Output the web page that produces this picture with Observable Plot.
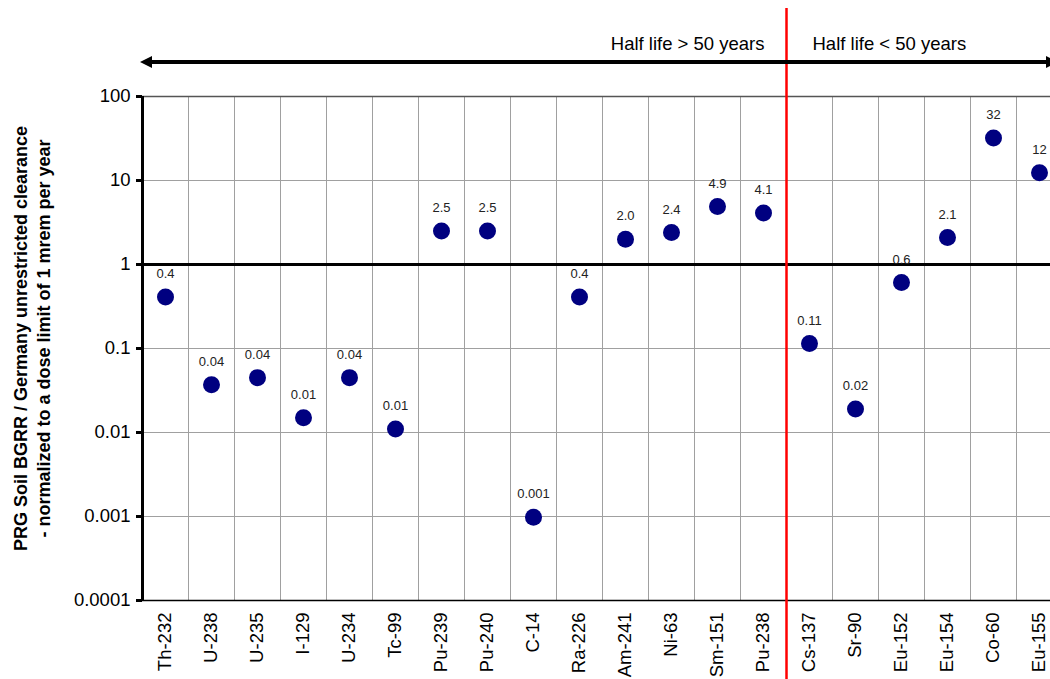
<!DOCTYPE html>
<html>
<head>
<meta charset="utf-8">
<script src="https://cdn.jsdelivr.net/npm/d3@7"></script>
<script src="https://cdn.jsdelivr.net/npm/@observablehq/plot@0.6"></script>
<style>
  html, body { margin: 0; padding: 0; background: #fff; overflow: hidden; }
  #chart { width: 1050px; height: 679px; overflow: hidden; }
  #chart svg { max-width: none !important; width: 1062px !important; height: 679px !important; }
</style>
</head>
<body>
<div id="chart"></div>
<script>
const nuclides = ["Th-232","U-238","U-235","I-129","U-234","Tc-99","Pu-239","Pu-240","C-14","Ra-226","Am-241","Ni-63","Sm-151","Pu-238","Cs-137","Sr-90","Eu-152","Eu-154","Co-60","Eu-155"];
const ratios = [0.41,0.037,0.045,0.015,0.045,0.011,2.5,2.5,0.00098,0.41,2.0,2.4,4.9,4.1,0.115,0.019,0.61,2.1,32,12.4];
const valueLabels = ["0.4","0.04","0.04","0.01","0.04","0.01","2.5","2.5","0.001","0.4","2.0","2.4","4.9","4.1","0.11","0.02","0.6","2.1","32","12"];
const yTicks = [0.0001,0.001,0.01,0.1,1,10,100];
const yTickLabels = ["0.0001","0.001","0.01","0.1","1","10","100"];
const dividerAt = "Cs-137";
const regionLabels = ["Half life > 50 years","Half life < 50 years"];
const yTitle = "PRG Soil BGRR / Germany unrestricted clearance\n- normalized to a dose limit of 1 mrem per year";

const data = nuclides.map((n, i) => ({nuclide: n, value: ratios[i], label: valueLabels[i]}));
const halfBand = 23;

const arrowMark = (index, scales, values, dims) => {
  const g = d3.create("svg:g");
  const y = dims.marginTop - 34;
  const x0 = dims.marginLeft - 2, x1 = dims.width - 4;
  g.append("line").attr("x1", x0 + 8).attr("x2", x1 - 8).attr("y1", y).attr("y2", y)
    .attr("stroke", "#000").attr("stroke-width", 4);
  g.append("path").attr("d", `M${x0},${y}L${x0 + 12},${y - 6}L${x0 + 12},${y + 6}Z`).attr("fill", "#000");
  g.append("path").attr("d", `M${x1},${y}L${x1 - 12},${y - 6}L${x1 - 12},${y + 6}Z`).attr("fill", "#000");
  return g.node();
};

const chart = Plot.plot({
  width: 1062,
  height: 679,
  marginLeft: 142,
  marginRight: 0,
  marginTop: 96,
  marginBottom: 79,
  style: {fontFamily: "'Liberation Sans', Arial, sans-serif", fontSize: "18px", background: "#fff", overflow: "visible", color: "#000"},
  x: {type: "band", domain: nuclides, padding: 0, label: null},
  y: {type: "log", domain: [0.0001, 100], label: null},
  marks: [
    Plot.gridY(yTicks, {stroke: "#a0a0a0", strokeOpacity: 1, strokeWidth: 1}),
    Plot.ruleX(nuclides.slice(1), {x: d => d, dx: -halfBand, stroke: "#a0a0a0", strokeWidth: 1}),
    Plot.ruleY([100], {stroke: "#555", strokeWidth: 1.5}),
    Plot.ruleY([1], {stroke: "#000", strokeWidth: 3}),
    Plot.ruleY([0.0001], {stroke: "#000", strokeWidth: 1.5}),
    Plot.ruleX([nuclides[0]], {x: d => d, dx: -halfBand, stroke: "#000", strokeWidth: 3}),
    Plot.axisY({ticks: yTicks, tickFormat: d => yTickLabels[yTicks.indexOf(d)], tickSize: 6, tickPadding: 6, strokeWidth: 3, fontSize: 18.5, fill: "#000", label: null}),
    Plot.axisX({tickRotate: -90, tickSize: 0, tickPadding: 12, fontSize: 18.5, fill: "#000", label: null}),
    Plot.ruleX([dividerAt], {x: d => d, dx: -halfBand, stroke: "#ff0000", strokeWidth: 2.5, insetTop: -88, insetBottom: -79}),
    arrowMark,
    Plot.text([regionLabels[0]], {x: () => dividerAt, frameAnchor: "top", dx: -halfBand - 22, dy: -60, textAnchor: "end", fontSize: 18.5, fill: "#000"}),
    Plot.text([regionLabels[1]], {x: () => dividerAt, frameAnchor: "top", dx: -halfBand + 26, dy: -60, textAnchor: "start", fontSize: 18.5, fill: "#000"}),
    Plot.dot(data, {x: "nuclide", y: "value", r: 8.5, fill: "#000080", stroke: "none"}),
    Plot.text(data, {x: "nuclide", y: "value", text: "label", dy: -23, fontSize: 13, fill: "#222"}),
    Plot.text([yTitle], {frameAnchor: "left", dx: -111, dy: -10, textAnchor: "middle", rotate: -90, fontSize: 18, fontWeight: "bold", fill: "#000", lineHeight: 1.28})
  ]
});
document.getElementById("chart").appendChild(chart);
</script>
</body>
</html>
